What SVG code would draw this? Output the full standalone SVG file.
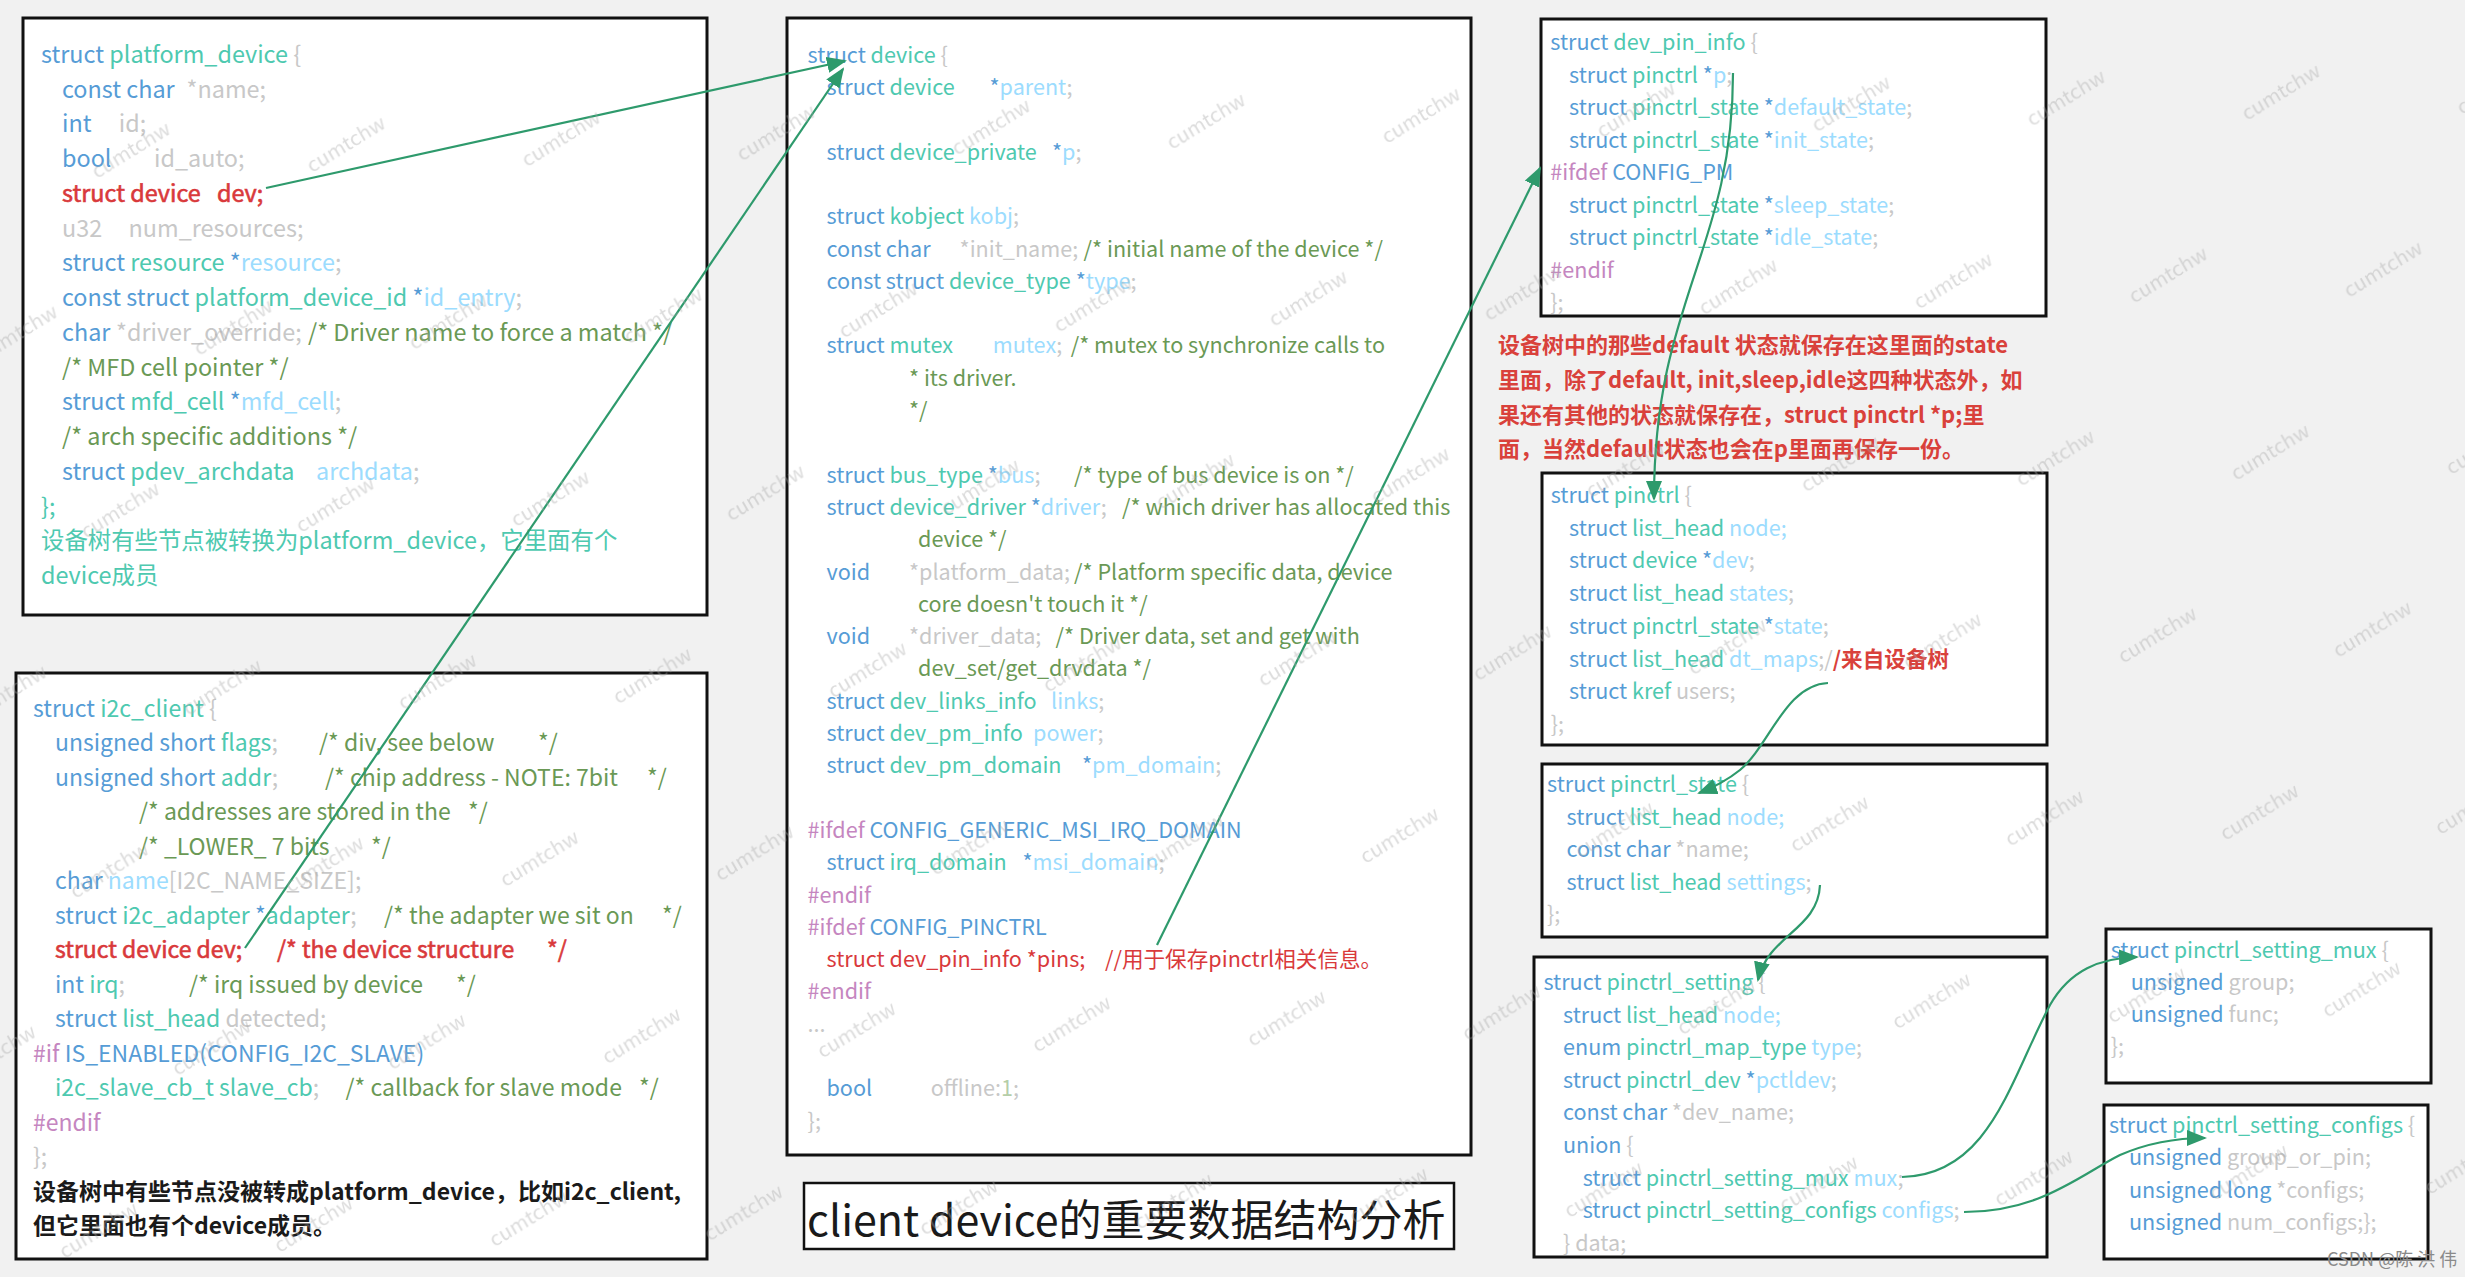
<svg xmlns="http://www.w3.org/2000/svg" width="2465" height="1277" viewBox="0 0 2465 1277">
<style>
text{font-family:"Noto Sans CJK SC","Noto Sans",sans-serif;white-space:pre}
.f1{font-size:23.4px}.f2{font-size:23px}.f3{font-size:21.6px}
.k{fill:#569cd6}.t{fill:#4ec9b0}.v{fill:#9cdcfe}.g{fill:#c8c8c8}.c{fill:#6a9955}.r{fill:#d9393b}.p{fill:#c586c0}.n{fill:#b5cea8}
.rm{fill:#d9393b;stroke:#d9393b;stroke-width:0.6}
.rb{fill:#d9413b;font-weight:bold}
.box{fill:#fff;stroke:#111;stroke-width:3}
.conn{fill:none;stroke:#2e9a6c;stroke-width:2.2}
.wm{font-size:20px;fill:#a8a8a8;opacity:0.4}
</style>
<defs>
<marker id="ah" viewBox="0 0 20 16" markerUnits="userSpaceOnUse" markerWidth="20" markerHeight="16" refX="18" refY="8" orient="auto">
<path d="M0,0 L20,8 L0,16 z" fill="#2e9a6c"/>
</marker>
<pattern id="wmp" patternUnits="userSpaceOnUse" width="215" height="360" patternTransform="matrix(1,-0.027,-0.03,1,131,150)">
<g class="wm">
<text transform="translate(0,0) rotate(-31)" text-anchor="middle" y="7">cumtchw</text>
<text transform="translate(215,0) rotate(-31)" text-anchor="middle" y="7">cumtchw</text>
<text transform="translate(0,360) rotate(-31)" text-anchor="middle" y="7">cumtchw</text>
<text transform="translate(215,360) rotate(-31)" text-anchor="middle" y="7">cumtchw</text>
<text transform="translate(107.5,180) rotate(-31)" text-anchor="middle" y="7">cumtchw</text>
</g>
</pattern>
</defs>
<rect width="2465" height="1277" fill="#f1f1f1"/>

<g id="platform_device">
<rect class="box" x="23" y="18" width="684" height="597"/>
<g class="f1">
<text x="41" y="63"><tspan class="k">struct </tspan><tspan class="t">platform_device </tspan><tspan class="g">{</tspan></text>
<text x="62" y="97.5"><tspan class="k">const char</tspan><tspan x="186.6" class="g">*name;</tspan></text>
<text x="62" y="132"><tspan class="k">int</tspan><tspan x="118.8" class="g">id;</tspan></text>
<text x="62" y="167"><tspan class="k">bool</tspan><tspan x="154" class="g">id_auto;</tspan></text>
<text x="62" y="202" class="rm"><tspan>struct device</tspan><tspan x="217">dev;</tspan></text>
<text x="62" y="236.5"><tspan class="g">u32</tspan><tspan x="128.5" class="g">num_resources;</tspan></text>
<text x="62" y="271"><tspan class="k">struct </tspan><tspan class="t">resource </tspan><tspan class="k">*</tspan><tspan class="v">resource</tspan><tspan class="g">;</tspan></text>
<text x="62" y="306"><tspan class="k">const struct </tspan><tspan class="t">platform_device_id </tspan><tspan class="k">*</tspan><tspan class="v">id_entry</tspan><tspan class="g">;</tspan></text>
<text x="62" y="341"><tspan class="k">char </tspan><tspan x="116" class="g">*driver_override;</tspan><tspan x="308" class="c">/* Driver name to force a match */</tspan></text>
<text x="62" y="375.5" class="c">/* MFD cell pointer */</text>
<text x="62" y="410"><tspan class="k">struct </tspan><tspan class="t">mfd_cell </tspan><tspan class="k">*</tspan><tspan class="v">mfd_cell</tspan><tspan class="g">;</tspan></text>
<text x="62" y="445" class="c">/* arch specific additions */</text>
<text x="62" y="480"><tspan class="k">struct </tspan><tspan class="t">pdev_archdata</tspan><tspan x="316" class="v">archdata</tspan><tspan class="g">;</tspan></text>
<text x="41" y="514.5" class="t">};</text>
<text x="41" y="549" class="t">设备树有些节点被转换为platform_device，它里面有个</text>
<text x="41" y="584" class="t">device成员</text>
</g>
</g>

<g id="i2c_client">
<rect class="box" x="16" y="673" width="691" height="586"/>
<g class="f2">
<text x="33" y="717"><tspan class="k">struct </tspan><tspan class="t">i2c_client </tspan><tspan class="g">{</tspan></text>
<text x="55" y="751"><tspan class="k">unsigned short </tspan><tspan class="t">flags</tspan><tspan class="g">;</tspan><tspan x="319" class="c">/* div, see below</tspan><tspan x="538" class="c">*/</tspan></text>
<text x="55" y="786"><tspan class="k">unsigned short </tspan><tspan class="t">addr</tspan><tspan class="g">;</tspan><tspan x="325" class="c">/* chip address - NOTE: 7bit</tspan><tspan x="647" class="c">*/</tspan></text>
<text x="139" y="820" class="c"><tspan>/* addresses are stored in the</tspan><tspan x="468">*/</tspan></text>
<text x="139" y="855" class="c"><tspan>/* _LOWER_ 7 bits</tspan><tspan x="371">*/</tspan></text>
<text x="55" y="889"><tspan class="k">char </tspan><tspan class="v">name</tspan><tspan class="g">[I2C_NAME_SIZE];</tspan></text>
<text x="55" y="924"><tspan class="k">struct </tspan><tspan class="t">i2c_adapter </tspan><tspan class="k">*</tspan><tspan class="t">adapter</tspan><tspan class="g">;</tspan><tspan x="384" class="c">/* the adapter we sit on</tspan><tspan x="662" class="c">*/</tspan></text>
<text x="55" y="958" class="rm"><tspan>struct device dev;</tspan><tspan x="277">/* the device structure</tspan><tspan x="547">*/</tspan></text>
<text x="55" y="993"><tspan class="k">int </tspan><tspan class="t">irq</tspan><tspan class="g">;</tspan><tspan x="189" class="c">/* irq issued by device</tspan><tspan x="456" class="c">*/</tspan></text>
<text x="55" y="1027"><tspan class="k">struct </tspan><tspan class="t">list_head </tspan><tspan class="g">detected;</tspan></text>
<text x="33" y="1062"><tspan class="p">#if </tspan><tspan class="k">IS_ENABLED(CONFIG_I2C_SLAVE)</tspan></text>
<text x="55" y="1096"><tspan class="t">i2c_slave_cb_t slave_cb</tspan><tspan class="g">;</tspan><tspan x="345.6" class="c">/* callback for slave mode</tspan><tspan x="639" class="c">*/</tspan></text>
<text x="33" y="1131" class="p">#endif</text>
<text x="33" y="1165" class="g">};</text>
<text x="33" y="1200" fill="#1a1a1a" font-weight="bold">设备树中有些节点没被转成platform_device，比如i2c_client,</text>
<text x="33" y="1234" fill="#1a1a1a" font-weight="bold">但它里面也有个device成员。</text>
</g>
</g>

<g id="device">
<rect class="box" x="787" y="18" width="684" height="1137"/>
<g class="f3">
<text x="807.6" y="62.7"><tspan class="k">struct </tspan><tspan class="t">device </tspan><tspan class="g">{</tspan></text>
<text x="826.5" y="95"><tspan class="k">struct </tspan><tspan class="t">device</tspan><tspan x="989.5" class="k">*</tspan><tspan class="v">parent</tspan><tspan class="g">;</tspan></text>
<text x="826.5" y="159.6"><tspan class="k">struct </tspan><tspan class="t">device_private</tspan><tspan x="1052" class="k">*</tspan><tspan class="v">p</tspan><tspan class="g">;</tspan></text>
<text x="826.5" y="224"><tspan class="k">struct </tspan><tspan class="t">kobject </tspan><tspan class="v">kobj</tspan><tspan class="g">;</tspan></text>
<text x="826.5" y="256.5"><tspan class="k">const char</tspan><tspan x="959.6" class="g">*init_name;</tspan><tspan x="1083.6" class="c">/* initial name of the device */</tspan></text>
<text x="826.5" y="288.8"><tspan class="k">const struct </tspan><tspan class="t">device_type </tspan><tspan class="k">*</tspan><tspan class="v">type</tspan><tspan class="g">;</tspan></text>
<text x="826.5" y="353.4"><tspan class="k">struct </tspan><tspan class="t">mutex</tspan><tspan x="992.7" class="v">mutex</tspan><tspan class="g">;</tspan><tspan x="1070.7" class="c">/* mutex to synchronize calls to</tspan></text>
<text x="909" y="385.7" class="c">* its driver.</text>
<text x="909" y="418" class="c">*/</text>
<text x="826.5" y="482.6"><tspan class="k">struct </tspan><tspan class="t">bus_type </tspan><tspan class="k">*</tspan><tspan class="v">bus</tspan><tspan class="g">;</tspan><tspan x="1074" class="c">/* type of bus device is on */</tspan></text>
<text x="826.5" y="515"><tspan class="k">struct </tspan><tspan class="t">device_driver </tspan><tspan class="k">*</tspan><tspan class="v">driver</tspan><tspan class="g">;</tspan><tspan x="1122" class="c">/* which driver has allocated this</tspan></text>
<text x="918" y="547" class="c">device */</text>
<text x="826.5" y="579.5"><tspan class="k">void</tspan><tspan x="909" class="g">*platform_data;</tspan><tspan x="1074" class="c">/* Platform specific data, device</tspan></text>
<text x="918" y="612" class="c">core doesn't touch it */</text>
<text x="826.5" y="644"><tspan class="k">void</tspan><tspan x="909" class="g">*driver_data;</tspan><tspan x="1055.6" class="c">/* Driver data, set and get with</tspan></text>
<text x="918" y="676" class="c">dev_set/get_drvdata */</text>
<text x="826.5" y="708.7"><tspan class="k">struct </tspan><tspan class="t">dev_links_info</tspan><tspan x="1051" class="v">links</tspan><tspan class="g">;</tspan></text>
<text x="826.5" y="741"><tspan class="k">struct </tspan><tspan class="t">dev_pm_info</tspan><tspan x="1033" class="v">power</tspan><tspan class="g">;</tspan></text>
<text x="826.5" y="773.3"><tspan class="k">struct </tspan><tspan class="t">dev_pm_domain</tspan><tspan x="1082" class="k">*</tspan><tspan class="v">pm_domain</tspan><tspan class="g">;</tspan></text>
<text x="807.6" y="838"><tspan class="p">#ifdef </tspan><tspan class="k">CONFIG_GENERIC_MSI_IRQ_DOMAIN</tspan></text>
<text x="826.5" y="870.2"><tspan class="k">struct </tspan><tspan class="t">irq_domain</tspan><tspan x="1022.5" class="k">*</tspan><tspan class="v">msi_domain</tspan><tspan class="g">;</tspan></text>
<text x="807.6" y="902.5" class="p">#endif</text>
<text x="807.6" y="934.8"><tspan class="p">#ifdef </tspan><tspan class="k">CONFIG_PINCTRL</tspan></text>
<text x="826.5" y="967" class="r"><tspan>struct dev_pin_info *pins;</tspan><tspan x="1105">//用于保存pinctrl相关信息。</tspan></text>
<text x="807.6" y="999.4" class="p">#endif</text>
<text x="807.6" y="1031.7" class="g">...</text>
<text x="826.5" y="1096.3"><tspan class="k">bool</tspan><tspan x="930.7" class="g">offline:</tspan><tspan class="n">1</tspan><tspan class="g">;</tspan></text>
<text x="807.6" y="1128.6" class="g">};</text>
</g>
</g>

<g id="title">
<rect x="804" y="1183" width="650" height="66" fill="#fff" stroke="#111" stroke-width="2.5"/>
<text x="807" y="1236" font-size="43" fill="#1a1a1a">client device的重要数据结构分析</text>
</g>

<g id="dev_pin_info">
<rect class="box" x="1541" y="19" width="505" height="297"/>
<g class="f3">
<text x="1550.3" y="50"><tspan class="k">struct </tspan><tspan class="t">dev_pin_info </tspan><tspan class="g">{</tspan></text>
<text x="1569" y="82.5"><tspan class="k">struct </tspan><tspan class="t">pinctrl </tspan><tspan class="k">*</tspan><tspan class="v">p</tspan><tspan class="g">;</tspan></text>
<text x="1569" y="115"><tspan class="k">struct </tspan><tspan class="t">pinctrl_state </tspan><tspan class="k">*</tspan><tspan class="v">default_state</tspan><tspan class="g">;</tspan></text>
<text x="1569" y="147.5"><tspan class="k">struct </tspan><tspan class="t">pinctrl_state </tspan><tspan class="k">*</tspan><tspan class="v">init_state</tspan><tspan class="g">;</tspan></text>
<text x="1550.3" y="180"><tspan class="p">#ifdef </tspan><tspan class="k">CONFIG_PM</tspan></text>
<text x="1569" y="212.5"><tspan class="k">struct </tspan><tspan class="t">pinctrl_state </tspan><tspan class="k">*</tspan><tspan class="v">sleep_state</tspan><tspan class="g">;</tspan></text>
<text x="1569" y="245"><tspan class="k">struct </tspan><tspan class="t">pinctrl_state </tspan><tspan class="k">*</tspan><tspan class="v">idle_state</tspan><tspan class="g">;</tspan></text>
<text x="1550.3" y="277.5" class="p">#endif</text>
<text x="1550.3" y="310" class="g">};</text>
</g>
</g>

<g id="note_state" font-size="22">
<text x="1498" y="353" class="rb">设备树中的那些default 状态就保存在这里面的state</text>
<text x="1498" y="388" class="rb">里面，除了default, init,sleep,idle这四种状态外，如</text>
<text x="1498" y="423" class="rb">果还有其他的状态就保存在，struct pinctrl *p;里</text>
<text x="1498" y="457" class="rb">面，当然default状态也会在p里面再保存一份。</text>
</g>

<g id="pinctrl">
<rect class="box" x="1542" y="473" width="505" height="272"/>
<g class="f3">
<text x="1550.7" y="503"><tspan class="k">struct </tspan><tspan class="t">pinctrl </tspan><tspan class="g">{</tspan></text>
<text x="1569" y="535.7"><tspan class="k">struct </tspan><tspan class="t">list_head </tspan><tspan class="v">node;</tspan></text>
<text x="1569" y="568.4"><tspan class="k">struct </tspan><tspan class="t">device </tspan><tspan class="k">*</tspan><tspan class="v">dev</tspan><tspan class="g">;</tspan></text>
<text x="1569" y="601"><tspan class="k">struct </tspan><tspan class="t">list_head </tspan><tspan class="v">states</tspan><tspan class="g">;</tspan></text>
<text x="1569" y="633.8"><tspan class="k">struct </tspan><tspan class="t">pinctrl_state </tspan><tspan class="k">*</tspan><tspan class="v">state</tspan><tspan class="g">;</tspan></text>
<text x="1569" y="666.5"><tspan class="k">struct </tspan><tspan class="t">list_head </tspan><tspan class="v">dt_maps</tspan><tspan class="g">;/</tspan><tspan class="rb">/来自设备树</tspan></text>
<text x="1569" y="699"><tspan class="k">struct </tspan><tspan class="t">kref </tspan><tspan class="g">users;</tspan></text>
<text x="1550.7" y="732" class="g">};</text>
</g>
</g>

<g id="pinctrl_state">
<rect class="box" x="1542" y="764" width="505" height="173"/>
<g class="f3">
<text x="1547" y="792"><tspan class="k">struct </tspan><tspan class="t">pinctrl_state </tspan><tspan class="g">{</tspan></text>
<text x="1566.5" y="824.5"><tspan class="k">struct </tspan><tspan class="t">list_head </tspan><tspan class="v">node;</tspan></text>
<text x="1566.5" y="857"><tspan class="k">const char </tspan><tspan class="g">*name;</tspan></text>
<text x="1566.5" y="889.5"><tspan class="k">struct </tspan><tspan class="t">list_head </tspan><tspan class="v">settings</tspan><tspan class="g">;</tspan></text>
<text x="1547" y="922" class="g">};</text>
</g>
</g>

<g id="pinctrl_setting">
<rect class="box" x="1534" y="957" width="513" height="300"/>
<g class="f3">
<text x="1543.4" y="990"><tspan class="k">struct </tspan><tspan class="t">pinctrl_setting </tspan><tspan class="g">{</tspan></text>
<text x="1563" y="1022.6"><tspan class="k">struct </tspan><tspan class="t">list_head </tspan><tspan class="v">node;</tspan></text>
<text x="1563" y="1055.2"><tspan class="k">enum </tspan><tspan class="t">pinctrl_map_type </tspan><tspan class="v">type</tspan><tspan class="g">;</tspan></text>
<text x="1563" y="1087.8"><tspan class="k">struct </tspan><tspan class="t">pinctrl_dev </tspan><tspan class="k">*</tspan><tspan class="v">pctldev</tspan><tspan class="g">;</tspan></text>
<text x="1563" y="1120.4"><tspan class="k">const char </tspan><tspan class="g">*dev_name;</tspan></text>
<text x="1563" y="1153"><tspan class="k">union </tspan><tspan class="g">{</tspan></text>
<text x="1582.7" y="1185.6"><tspan class="k">struct </tspan><tspan class="t">pinctrl_setting_mux </tspan><tspan class="v">mux</tspan><tspan class="g">;</tspan></text>
<text x="1582.7" y="1218.2"><tspan class="k">struct </tspan><tspan class="t">pinctrl_setting_configs </tspan><tspan class="v">configs</tspan><tspan class="g">;</tspan></text>
<text x="1563" y="1250.8" class="g">} data;</text>
</g>
</g>

<g id="pinctrl_setting_mux">
<rect class="box" x="2106" y="929" width="325" height="154"/>
<g class="f3">
<text x="2110.7" y="958"><tspan class="k">struct </tspan><tspan class="t">pinctrl_setting_mux </tspan><tspan class="g">{</tspan></text>
<text x="2130.7" y="990"><tspan class="k">unsigned </tspan><tspan class="g">group;</tspan></text>
<text x="2130.7" y="1022"><tspan class="k">unsigned </tspan><tspan class="g">func;</tspan></text>
<text x="2110.7" y="1054" class="g">};</text>
</g>
</g>

<g id="pinctrl_setting_configs">
<rect class="box" x="2104" y="1105" width="324" height="154"/>
<g class="f3">
<text x="2109" y="1133"><tspan class="k">struct </tspan><tspan class="t">pinctrl_setting_configs </tspan><tspan class="g">{</tspan></text>
<text x="2129" y="1165.3"><tspan class="k">unsigned </tspan><tspan class="g">group_or_pin;</tspan></text>
<text x="2129" y="1197.6"><tspan class="k">unsigned long </tspan><tspan class="g">*configs;</tspan></text>
<text x="2129" y="1230"><tspan class="k">unsigned </tspan><tspan class="g">num_configs;};</tspan></text>
</g>
</g>

<g id="connectors">
<path class="conn" d="M266,188 L845,61" marker-end="url(#ah)"/>
<path class="conn" d="M245,948 L843,69" marker-end="url(#ah)"/>
<path class="conn" d="M1157,945 L1540,168" marker-end="url(#ah)"/>
<path class="conn" d="M1733,73 C1733,250 1654,300 1654,499" marker-end="url(#ah)"/>
<path class="conn" d="M1828,683 C1785,685 1770,745 1740,770 C1725,782 1712,788 1699,793" marker-end="url(#ah)"/>
<path class="conn" d="M1820,885 C1818,930 1768,935 1758,980" marker-end="url(#ah)"/>
<path class="conn" d="M1902,1177 C1990,1175 2010,1080 2050,1005 C2070,970 2100,958 2137,957" marker-end="url(#ah)"/>
<path class="conn" d="M1964,1212 C2040,1212 2080,1175 2120,1155 C2150,1142 2180,1138 2205,1138" marker-end="url(#ah)"/>
</g>

<text x="2327" y="1266" font-size="18" fill="#8a8a8a">CSDN @陈 洪 伟</text>
<rect width="2465" height="1277" fill="url(#wmp)" pointer-events="none"/>
</svg>
